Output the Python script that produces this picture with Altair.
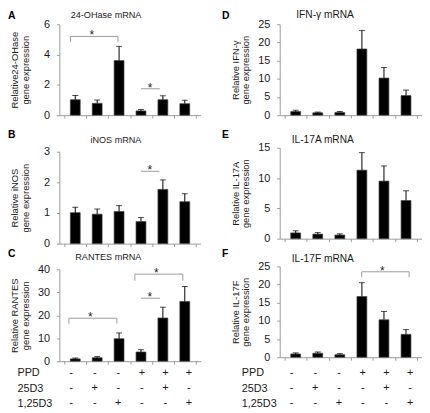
import altair as alt
import pandas as pd

FONT = "Liberation Sans"
GRAY = "#9a9a9a"
INK = "#1a1a1a"

conditions = [1, 2, 3, 4, 5, 6]
tick_bounds = [0.5, 1.5, 2.5, 3.5, 4.5, 5.5, 6.5]

# ---- panel values (mean and upper error) ----
a_mean = [1.02, 0.78, 3.60, 0.28, 1.02, 0.76]
a_err = [0.28, 0.22, 0.94, 0.09, 0.26, 0.22]
b_mean = [1.01, 0.96, 1.05, 0.72, 1.77, 1.37]
b_err = [0.18, 0.17, 0.19, 0.13, 0.31, 0.26]
c_mean = [1.0, 1.5, 9.8, 4.0, 18.8, 26.0]
c_err = [0.4, 0.5, 2.5, 1.0, 4.7, 6.5]
d_mean = [1.0, 0.65, 0.75, 18.2, 10.2, 5.4]
d_err = [0.35, 0.2, 0.25, 5.1, 2.9, 1.5]
e_mean = [0.95, 0.75, 0.6, 11.3, 9.5, 6.3]
e_err = [0.35, 0.25, 0.2, 2.9, 2.5, 1.6]
f_mean = [0.9, 1.1, 0.7, 16.7, 10.3, 6.3]
f_err = [0.3, 0.35, 0.3, 3.8, 2.3, 1.3]

# ---- significance brackets ----
a_br_x1 = [0.78, 4.0]
a_br_x2 = [2.95, 4.86]
a_br_y = [5.2, 1.74]
a_br_drop = [0.36, 0.0]
a_star_x = [1.76, 4.41]
b_br_x1 = [4.0]
b_br_x2 = [4.84]
b_br_y = [2.36]
b_br_drop = [0.0]
b_star_x = [4.4]
c_br_x1 = [0.71, 4.0, 3.72]
c_br_x2 = [2.90, 4.87, 5.91]
c_br_y = [18.7, 27.4, 37.9]
c_br_drop = [2.4, 0.0, 2.9]
c_star_x = [1.69, 4.4, 4.7]
f_br_x1 = [3.99]
f_br_x2 = [6.14]
f_br_y = [23.5]
f_br_drop = [1.5]
f_star_x = [4.93]

# ---- treatment table ----
row_names = ["PPD", "25D3", "1,25D3"]
ppd = ["-", "-", "-", "+", "+", "+"]
d25 = ["-", "+", "-", "-", "+", "-"]
d125 = ["-", "-", "+", "-", "-", "+"]

XSCALE = alt.Scale(domain=[0.5, 6.5], nice=False, zero=False)


def panel(letter, title, ytitle, mean, err, yticks, width, height,
          letter_x, letter_y, title_dx, title_y, title_lh, title_fs,
          br=None):
    ymax = yticks[-1]
    ysc = alt.Scale(domain=[0, ymax], nice=False, zero=True)
    df = pd.DataFrame({"x": conditions, "mean": mean,
                       "upper": [m + e for m, e in zip(mean, err)]})
    xaxis = alt.Axis(values=tick_bounds, labels=False, title=None, grid=False,
                     tickSize=3, tickColor=GRAY, domainColor=GRAY)
    yaxis = alt.Axis(values=yticks, tickCount=len(yticks), title=ytitle,
                     grid=False,
                     titleX=-50, titleY=height / 2, titleBaseline="top",
                     titleAlign="center", titleFontSize=9.5, titleFont=FONT,
                     titleFontWeight="normal", titleColor=INK,
                     titleLineHeight=title_lh,
                     labelFontSize=11, labelFont=FONT, labelColor=INK,
                     labelPadding=7, labelOverlap=False, labelFlush=False,
                     labelBound=False, format="d",
                     tickSize=3, tickColor=GRAY, domainColor=GRAY)
    bars = alt.Chart(df).mark_bar(size=10, color="black", stroke="#444",
                                  strokeWidth=0.7).encode(
        x=alt.X("x:Q", scale=XSCALE, axis=xaxis),
        y=alt.Y("mean:Q", scale=ysc, axis=yaxis),
    )
    errs = alt.Chart(df).mark_rule(color="black", strokeWidth=1).encode(
        x=alt.X("x:Q", scale=XSCALE, axis=None),
        y=alt.Y("mean:Q", scale=ysc, axis=None),
        y2="upper:Q",
    )
    caps = alt.Chart(df).mark_tick(orient="horizontal", size=6, thickness=1,
                                   color="black").encode(
        x=alt.X("x:Q", scale=XSCALE, axis=None),
        y=alt.Y("upper:Q", scale=ysc, axis=None),
    )
    layers = [bars, errs, caps]
    if br is not None:
        x1, x2, yv, drop, sx = br
        bdf = pd.DataFrame({"x1": x1, "x2": x2, "y": yv, "sx": sx})
        ddf_rows = []
        for a, b, y, d in zip(x1, x2, yv, drop):
            if d > 0:
                ddf_rows.append({"x": a, "y": y, "ylow": y - d})
                ddf_rows.append({"x": b, "y": y, "ylow": y - d})
        layers.append(alt.Chart(bdf).mark_rule(color=GRAY, strokeWidth=1).encode(
            x=alt.X("x1:Q", scale=XSCALE, axis=None), x2="x2:Q",
            y=alt.Y("y:Q", scale=ysc, axis=None)))
        if ddf_rows:
            layers.append(alt.Chart(pd.DataFrame(ddf_rows)).mark_rule(
                color=GRAY, strokeWidth=1).encode(
                x=alt.X("x:Q", scale=XSCALE, axis=None),
                y=alt.Y("y:Q", scale=ysc, axis=None), y2="ylow:Q"))
        layers.append(alt.Chart(bdf).mark_text(
            text="*", fontSize=12, font=FONT, baseline="alphabetic", dy=3,
            color=INK).encode(
            x=alt.X("sx:Q", scale=XSCALE, axis=None),
            y=alt.Y("y:Q", scale=ysc, axis=None)))
    lab = pd.DataFrame({"letter": [letter], "title": [title]})
    layers.append(alt.Chart(lab).mark_text(
        align="left", baseline="alphabetic", fontSize=10.5, fontWeight="bold",
        font=FONT, color="black").encode(
        text="letter:N", x=alt.value(letter_x), y=alt.value(letter_y)))
    layers.append(alt.Chart(lab).mark_text(
        align="right", baseline="alphabetic", fontSize=title_fs, font=FONT,
        color=INK).encode(
        text="title:N", x=alt.value(width + title_dx), y=alt.value(title_y)))
    return alt.layer(*layers).resolve_axis(x="independent", y="independent"
                                           ).properties(width=width, height=height)


def conditions_table(width, pad):
    rows = []
    for name, signs in zip(row_names, [ppd, d25, d125]):
        for c, s in zip(conditions, signs):
            rows.append({"x": c, "row": name, "sign": s})
    return alt.Chart(pd.DataFrame(rows)).mark_text(
        fontSize=11, font=FONT, color=INK).encode(
        x=alt.X("x:Q", scale=XSCALE, axis=None),
        y=alt.Y("row:N", sort=row_names,
                axis=alt.Axis(title=None, domain=False, ticks=False,
                              tickSize=0, labelAlign="left",
                              labelPadding=pad, labelFontSize=11,
                              labelFont=FONT, labelColor=INK)),
        text="sign:N",
    ).properties(width=width, height=46.5)


def spacer(h):
    return alt.Chart(pd.DataFrame({"s": [0]})).mark_point(opacity=0).encode(
        x=alt.value(0), y=alt.value(0)).properties(width=1, height=h)


LW = 143
RW = 144

pA = panel("A", "24-OHase mRNA", ["Relative24-OHase", "gene expression"],
           a_mean, a_err, [0, 2, 4, 6], LW, 92, -52, -5.5, -60, -6, 11, 9.2,
           (a_br_x1, a_br_x2, a_br_y, a_br_drop, a_star_x))
pB = panel("B", "iNOS mRNA", ["Relative iNOS", "gene expression"],
           b_mean, b_err, [0, 1, 2, 3], LW, 93, -52, -14, -60, -8.7, 11, 9.2,
           (b_br_x1, b_br_x2, b_br_y, b_br_drop, b_star_x))
pC = panel("C", "RANTES mRNA", ["Relative RANTES", "gene expression"],
           c_mean, c_err, [0, 10, 20, 30, 40], LW, 93, -52, -12, -60, -9.5, 11, 9.2,
           (c_br_x1, c_br_x2, c_br_y, c_br_drop, c_star_x))
pD = panel("D", "IFN-γ mRNA", ["Relative IFN-γ", "gene expression"],
           d_mean, d_err, [0, 5, 10, 15, 20, 25], RW, 92, -58.5, -5.5, -69, -6, 10, 10.3)
pE = panel("E", "IL-17A mRNA", ["Relative IL-17A", "gene expression"],
           e_mean, e_err, [0, 5, 10, 15], RW, 92, -58.5, -10, -69, -4.7, 10, 10.3)
pF = panel("F", "IL-17F mRNA", ["Relative IL-17F", "gene expression"],
           f_mean, f_err, [0, 5, 10, 15, 20, 25], RW, 92, -58.5, -9, -69, -4.5, 10, 10.3,
           (f_br_x1, f_br_x2, f_br_y, f_br_drop, f_star_x))

left = alt.vconcat(pA, spacer(37), pB, spacer(26), pC, spacer(3.25),
                   conditions_table(LW, 43), spacing=0, bounds="flush")
right = alt.vconcat(pD, spacer(33), pE, spacer(28), pF, spacer(7.25),
                    conditions_table(RW, 39), spacing=0, bounds="flush")

chart = alt.hconcat(left, right, spacing=21).properties(
    padding=0).configure(background="white", padding=0).configure_view(
    stroke=None).configure_axis(labelOverlap=False)

chart.save("out.html", embed_options={"renderer": "svg", "actions": False})
